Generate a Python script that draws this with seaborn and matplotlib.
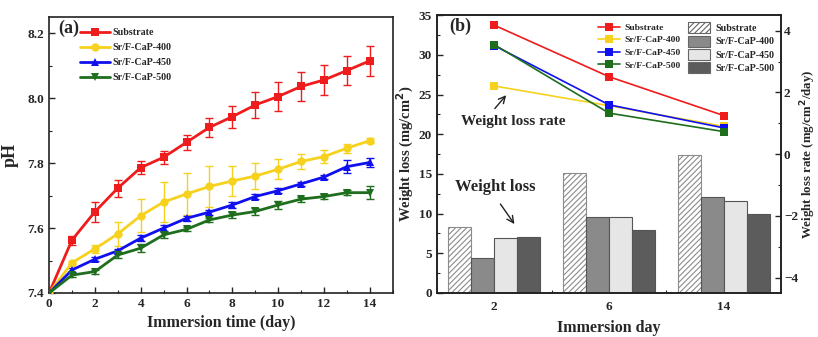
import numpy as np
import pandas as pd
import matplotlib
matplotlib.use("Agg")
import matplotlib.pyplot as plt
import seaborn as sns
from matplotlib.patches import Patch
from matplotlib.lines import Line2D
from matplotlib.ticker import MultipleLocator

# ---------------- data ----------------
series = ["Substrate", "Sr/F-CaP-400", "Sr/F-CaP-450", "Sr/F-CaP-500"]
line_colors = ["#ee1c1c", "#f6d21e", "#1010ee", "#1e6e1e"]
markers_a = ["s", "o", "^", "v"]

days_a = list(range(15))
ph_sub = [7.40, 7.563, 7.65, 7.723, 7.786, 7.818, 7.864, 7.91, 7.943, 7.979, 8.005, 8.036, 8.056, 8.085, 8.115]
ph_400 = [7.40, 7.493, 7.536, 7.582, 7.638, 7.68, 7.705, 7.728, 7.745, 7.76, 7.781, 7.805, 7.82, 7.846, 7.869]
ph_450 = [7.40, 7.471, 7.504, 7.530, 7.569, 7.60, 7.63, 7.649, 7.671, 7.697, 7.715, 7.736, 7.757, 7.789, 7.802]
ph_500 = [7.40, 7.455, 7.466, 7.517, 7.538, 7.579, 7.596, 7.625, 7.64, 7.651, 7.671, 7.689, 7.697, 7.709, 7.709]
err_sub = [0, 0.014, 0.031, 0.026, 0.021, 0.02, 0.023, 0.03, 0.034, 0.041, 0.044, 0.045, 0.045, 0.045, 0.046]
err_400 = [0, 0.005, 0.013, 0.036, 0.051, 0.062, 0.066, 0.064, 0.045, 0.04, 0.031, 0.024, 0.02, 0.014, 0.008]
err_450 = [0, 0.005, 0.006, 0.006, 0.01, 0.008, 0.008, 0.008, 0.008, 0.007, 0.007, 0.007, 0.007, 0.02, 0.015]
err_500 = [0, 0.006, 0.006, 0.008, 0.012, 0.01, 0.006, 0.006, 0.008, 0.012, 0.012, 0.008, 0.008, 0.008, 0.02]

days_b = ["2", "6", "14"]
wl_sub = [8.3, 15.1, 17.4]
wl_400 = [4.4, 9.6, 12.15]
wl_450 = [6.95, 9.6, 11.65]
wl_500 = [7.05, 7.95, 9.95]
bar_colors = ["#ffffff", "#8a8a8a", "#e6e6e6", "#5c5c5c"]

rate_sub = [4.18, 2.51, 1.25]
rate_400 = [2.21, 1.57, 0.90]
rate_450 = [3.52, 1.60, 0.85]
rate_500 = [3.55, 1.33, 0.73]

# ---------------- style ----------------
sns.set_theme(style="ticks")
plt.rcParams["font.family"] = ["Liberation Serif", "DejaVu Serif"]
plt.rcParams["font.weight"] = "bold"
plt.rcParams["axes.labelweight"] = "bold"
plt.rcParams["xtick.direction"] = "in"
plt.rcParams["ytick.direction"] = "in"
plt.rcParams["axes.linewidth"] = 1.2
plt.rcParams["axes.edgecolor"] = "#222222"
plt.rcParams["hatch.linewidth"] = 0.8

fig = plt.figure(figsize=(8.18, 3.37), dpi=100)
ax1 = fig.add_axes([0.060, 0.1306, 0.420, 0.819])
ax2 = fig.add_axes([0.534, 0.1306, 0.421, 0.824])

# ---------------- panel (a) ----------------
ph_all = [ph_sub, ph_400, ph_450, ph_500]
err_all = [err_sub, err_400, err_450, err_500]
dfa = pd.concat([pd.DataFrame({"day": days_a, "pH": v, "series": s})
                 for s, v in zip(series, ph_all)], ignore_index=True)
for s, v, e, c, m in zip(series, ph_all, err_all, line_colors, markers_a):
    ax1.errorbar(days_a, v, yerr=e, fmt="none", ecolor=c, elinewidth=1.0,
                 capsize=3, capthick=1.0, zorder=2)
sns.lineplot(data=dfa, x="day", y="pH", hue="series", style="series",
             palette=line_colors, markers=dict(zip(series, markers_a)),
             dashes=False, linewidth=2.0, markersize=6, markeredgewidth=0,
             ax=ax1, legend=False, zorder=3)
ax1.set_xlim(0, 15)
ax1.set_ylim(7.4, 8.25)
ax1.xaxis.set_major_locator(MultipleLocator(2))
ax1.xaxis.set_minor_locator(MultipleLocator(1))
ax1.yaxis.set_major_locator(MultipleLocator(0.2))
ax1.yaxis.set_minor_locator(MultipleLocator(0.1))
ax1.tick_params(which="major", length=4, width=1, labelsize=9.5)
ax1.tick_params(which="minor", length=2, width=0.8)
ax1.set_xlabel("Immersion time (day)", fontsize=11.5, labelpad=4)
ax1.set_ylabel("pH", fontsize=13, labelpad=6)
for lab in ax1.get_xticklabels() + ax1.get_yticklabels():
    lab.set_fontweight("bold")

h_a = [Line2D([], [], color=c, marker=m, lw=2.0, ms=6, mew=0)
       for c, m in zip(line_colors, markers_a)]
leg_a = ax1.legend(h_a, series, loc="upper left", bbox_to_anchor=(0.07, 0.985),
                   frameon=False, fontsize=7.2, handlelength=3.0,
                   handletextpad=0.2, labelspacing=0.6, borderaxespad=0.3)
for t in leg_a.get_texts():
    t.set_fontweight("bold")
ax1.text(0.026, 0.99, "(a)", transform=ax1.transAxes, fontsize=13,
         fontweight="bold", va="top", ha="left")

# ---------------- panel (b) bars ----------------
wl_all = [wl_sub, wl_400, wl_450, wl_500]
dfb = pd.concat([pd.DataFrame({"day": days_b, "wl": v, "series": s})
                 for s, v in zip(series, wl_all)], ignore_index=True)
sns.barplot(data=dfb, x="day", y="wl", hue="series", palette=bar_colors,
            order=days_b, hue_order=series, width=0.8, ax=ax2, legend=False,
            edgecolor="#555555", linewidth=0.8, saturation=1)
n = len(days_b)
for i, p in enumerate(ax2.patches[:n]):
    p.set_hatch("//////")
    p.set_edgecolor("#8c8c8c")
ax2.set_xlim(-0.5, 2.5)
ax2.set_ylim(0, 35)
ax2.yaxis.set_major_locator(MultipleLocator(5))
ax2.yaxis.set_minor_locator(MultipleLocator(2.5))
ax2.set_xticks(range(n))
ax2.set_xticks([0.5, 1.5], minor=True)
ax2.tick_params(which="major", length=4, width=1, labelsize=9.5)
ax2.tick_params(which="minor", length=2, width=0.8)
ax2.tick_params(axis="x", which="major", length=0, pad=6)
ax2.set_xlabel("Immersion day", fontsize=11.5, labelpad=5)
ax2.set_ylabel("Weight loss (mg/cm$^\\mathbf{2}$)", fontsize=10.5, labelpad=2)
for lab in ax2.get_xticklabels() + ax2.get_yticklabels():
    lab.set_fontweight("bold")

# ---------------- panel (b) rate lines ----------------
ax3 = ax2.twinx()
rate_all = [rate_sub, rate_400, rate_450, rate_500]
dfr = pd.concat([pd.DataFrame({"pos": np.arange(n), "rate": v, "series": s})
                 for s, v in zip(series, rate_all)], ignore_index=True)
sns.lineplot(data=dfr, x="pos", y="rate", hue="series", palette=line_colors,
             marker="s", markersize=6, markeredgewidth=0, linewidth=1.2,
             ax=ax3, legend=False)
ax3.set_ylim(-4.5, 4.5)
ax3.yaxis.set_major_locator(MultipleLocator(2))
ax3.yaxis.set_minor_locator(MultipleLocator(1))
ax3.tick_params(which="major", length=4, width=1, labelsize=9.5, pad=2)
ax3.tick_params(which="minor", length=2, width=0.8)
ax3.set_ylabel("Weight loss rate (mg/cm$^\\mathbf{2}$/day)", fontsize=9.3, labelpad=0)
for lab in ax3.get_yticklabels():
    lab.set_fontweight("bold")
ax3.set_xlim(-0.5, 2.5)

h_l = [Line2D([], [], color=c, marker="s", lw=1.2, ms=6, mew=0) for c in line_colors]
leg_l = ax3.legend(h_l, series, loc="upper left", bbox_to_anchor=(0.45, 0.995),
                   frameon=False, fontsize=6.8, handlelength=2.3,
                   handletextpad=0.5, labelspacing=0.42, borderaxespad=0.3)
for t in leg_l.get_texts():
    t.set_fontweight("bold")
ax3.add_artist(leg_l)
h_b = [Patch(facecolor=fc, edgecolor="#666666", lw=0.8,
             hatch=("//////" if i == 0 else None))
       for i, fc in enumerate(bar_colors)]
leg_b = ax3.legend(h_b, series, loc="upper right", bbox_to_anchor=(1.0, 1.0),
                   frameon=False, fontsize=7.2, handlelength=2.2, handleheight=1.3,
                   handletextpad=0.5, labelspacing=0.25, borderaxespad=0.3)
for t in leg_b.get_texts():
    t.set_fontweight("bold")

ax3.annotate("", xy=(0.12, 1.98), xytext=(-0.01, 1.41),
             arrowprops=dict(arrowstyle="->", color="#222222", lw=1.0))
ax3.text(0.17, 1.06, "Weight loss rate", fontsize=11, fontweight="bold",
         ha="center", va="center")
ax2.annotate("", xy=(0.19, 8.4), xytext=(0.04, 11.5),
             arrowprops=dict(arrowstyle="->", color="#222222", lw=1.0))
ax2.text(0.01, 13.4, "Weight loss", fontsize=12, fontweight="bold",
         ha="center", va="center")
ax2.text(0.035, 0.99, "(b)", transform=ax2.transAxes, fontsize=13,
         fontweight="bold", va="top", ha="left")

fig.savefig("out.png", dpi=100)
